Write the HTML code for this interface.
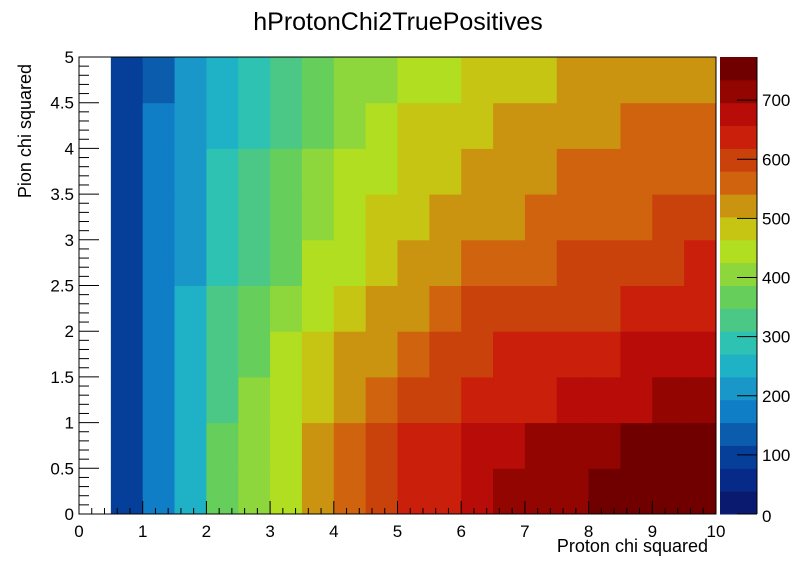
<!DOCTYPE html>
<html><head><meta charset="utf-8"><style>
html,body{margin:0;padding:0;background:#fff;}
svg{display:block;font-family:"Liberation Sans",sans-serif;}
</style></head><body>
<svg id="chart" width="796" height="572" xmlns="http://www.w3.org/2000/svg">
<text x="398" y="30" font-size="25" text-anchor="middle">hProtonChi2TruePositives</text>
<g id="cells"></g><g id="axes"></g><g id="palette"></g>
<text x="708" y="552" font-size="18" text-anchor="end">Proton chi squared</text>
<text transform="translate(31,64) rotate(-90)" font-size="18" text-anchor="end">Pion chi squared</text>
</svg>
<script>
const xEdges = [0,0.5,1,1.5,2,2.5,3,3.5,4,4.5,5,5.5,6,6.5,7,7.5,8,8.5,9,9.5,10];
const yEdges = [0,0.5,1,1.5,2,2.5,3,3.5,4,4.5,5];
const row0 = [0,97,174,251,367,406,444,522,560,599,638,638,676,715,715,715,754,754,754,754];
const row1 = [0,97,174,251,367,406,444,522,560,599,638,638,676,676,715,715,715,754,754,754];
const row2 = [0,97,174,251,329,406,444,483,522,560,599,599,638,638,638,676,676,676,715,715];
const row3 = [0,97,174,251,329,367,444,483,522,522,560,599,599,638,638,638,638,676,676,676];
const row4 = [0,97,174,251,329,367,406,444,483,522,522,560,599,599,599,599,599,638,638,638];
const row5 = [0,97,174,213,290,329,367,444,444,483,522,522,560,560,560,599,599,599,599,638];
const row6 = [0,97,174,213,290,329,367,406,444,483,483,522,522,522,560,560,560,560,599,599];
const row7 = [0,97,174,213,290,329,367,406,444,444,483,483,522,522,522,560,560,560,560,560];
const row8 = [0,97,174,213,251,290,329,367,406,444,483,483,483,522,522,522,522,560,560,560];
const row9 = [0,97,135,213,251,290,329,367,406,406,444,444,483,483,483,522,522,522,522,522];
const zRows = [row0,row1,row2,row3,row4,row5,row6,row7,row8,row9];
const xTickLabels = ["0","1","2","3","4","5","6","7","8","9","10"];
const yTickLabels = ["0","0.5","1","1.5","2","2.5","3","3.5","4","4.5","5"];
const zTickLabels = ["0","100","200","300","400","500","600","700"];
const zMax = 773;
const paletteColors = ["#0a1a6e","#072a88","#063f9a","#0b5cad","#0f7ec6","#1997c8","#1fb2c6","#2ec2b2","#4bc886","#66cf5b","#8dd63c","#b1de20","#c7c513","#cb9410","#d0630e","#c9420b","#c91f0b","#b70c07","#920500","#700000"];

const NS="http://www.w3.org/2000/svg";
const X0=79,X1=716,Y0=514,Y1=57;
const sx=v=>X0+(v-0)/(10-0)*(X1-X0);
const sy=v=>Y0-(v-0)/(5-0)*(Y0-Y1);
const PB0=514,PB1=57;
const sz=v=>PB0-v/zMax*(PB0-PB1);
function colorOf(v){let k=Math.floor(v/zMax*paletteColors.length);if(k<0)k=0;if(k>=paletteColors.length)k=paletteColors.length-1;return paletteColors[k];}
function mk(tag,attrs,parent){const e=document.createElementNS(NS,tag);for(const k in attrs)e.setAttribute(k,attrs[k]);parent.appendChild(e);return e;}

const cells=document.getElementById('cells');
zRows.forEach((row,j)=>{row.forEach((v,i)=>{
  if(v<=0)return;
  const x=sx(xEdges[i]),x2=sx(xEdges[i+1]),y=sy(yEdges[j+1]),y2=sy(yEdges[j]);
  const r=mk('rect',{x:x,y:y,width:x2-x+0.5,height:y2-y+0.5,fill:colorOf(v)},cells);
  
  
});});

const axes=document.getElementById('axes');
const frame=mk('rect',{x:X0,y:Y1,width:X1-X0,height:Y0-Y1,fill:'none',stroke:'#000','stroke-width':1},axes);


for(let t=0;t<=50;t++){const v=t*0.2;const x=sx(v);const major=t%5===0;
  mk('line',{x1:x,x2:x,y1:Y0,y2:Y0-(major?13:6),stroke:'#000','stroke-width':1},axes);}
xTickLabels.forEach((s,i)=>{const t=mk('text',{x:sx(i),y:537,'font-size':17,'text-anchor':'middle'},axes);t.textContent=s;
  
  });
for(let t=0;t<=50;t++){const v=t*0.1;const y=sy(v);const major=t%5===0;
  mk('line',{x1:X0,x2:X0+(major?20:10),y1:y,y2:y,stroke:'#000','stroke-width':1},axes);}
yTickLabels.forEach((s,i)=>{const t=mk('text',{x:74,y:sy(i*0.5)+6,'font-size':17,'text-anchor':'end'},axes);t.textContent=s;
  
  });

const pal=document.getElementById('palette');
paletteColors.forEach((c,k)=>{const lo=k*zMax/paletteColors.length,hi=(k+1)*zMax/paletteColors.length;
  const r=mk('rect',{x:720,y:sz(hi),width:37,height:sz(lo)-sz(hi)+0.5,fill:c},pal);
  
  });
mk('line',{x1:757,x2:757,y1:PB1,y2:PB0,stroke:'#000','stroke-width':1},pal);
zTickLabels.forEach((s,i)=>{const v=i*100;const y=sz(v);
  mk('line',{x1:737,x2:757,y1:y,y2:y,stroke:'#000','stroke-width':1},pal);
  const t=mk('text',{x:762,y:y+(i===0?8:6),'font-size':17},pal);t.textContent=s;
  
  });
</script>
</body></html>
